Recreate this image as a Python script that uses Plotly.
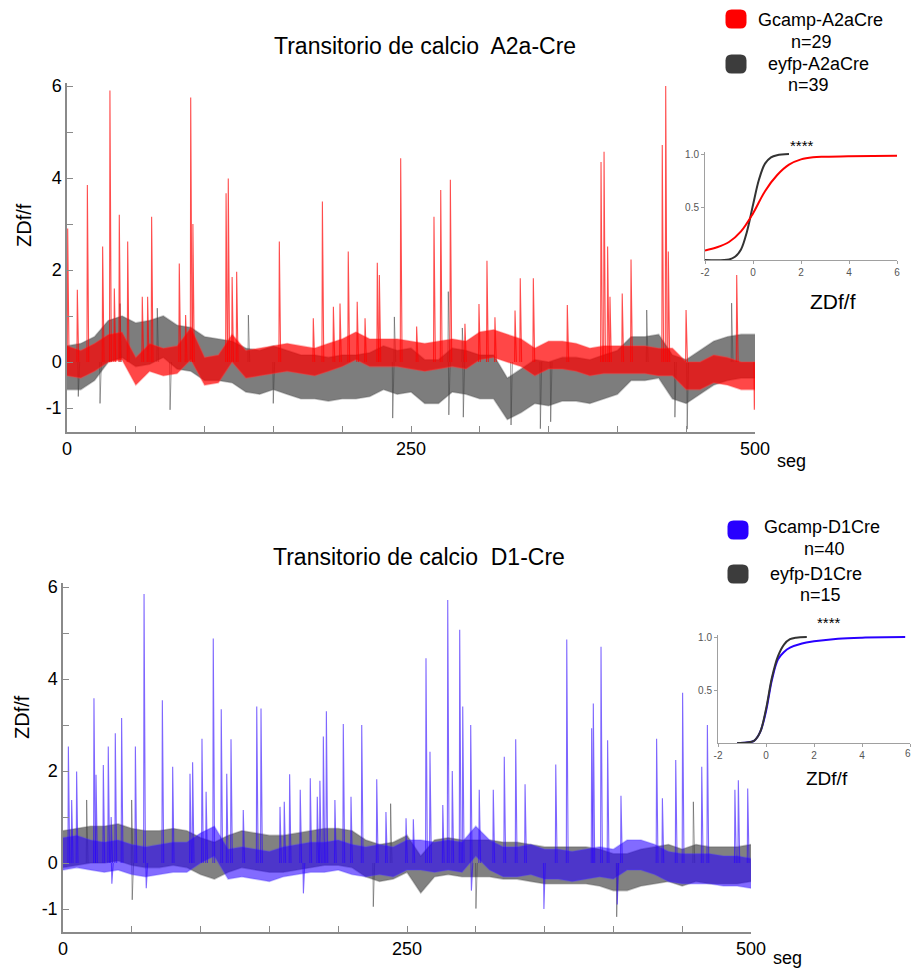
import plotly.graph_objects as go

W, H = 913, 970

# ------------------------------------------------------------------ data
# envelope sampling grid (seconds)
grid_t = list(range(0, 501, 10))

# --- A2a-Cre panel: noise band (lower / upper envelope), ZDf/f
a2a_gcamp_lo = [-0.3, -0.35, -0.2, 0.0, 0.05, -0.5, -0.2, -0.3, -0.25, 0.05, -0.5, -0.45, 0.0, -0.35, -0.3, -0.25, -0.2,
                -0.25, -0.3, -0.2, -0.1, 0.05, -0.1, -0.1, -0.1, -0.15, -0.2, -0.15, -0.1, -0.15, 0.05, 0.1, 0.0, -0.1,
                -0.3, -0.15, -0.15, -0.2, -0.3, -0.25, -0.25, -0.25, -0.25, -0.3, -0.3, -0.6, -0.6, -0.45, -0.5, -0.6, -0.6]
a2a_gcamp_hi = [0.35, 0.25, 0.4, 0.6, 0.65, 0.1, 0.4, 0.3, 0.35, 0.75, 0.1, 0.15, 0.6, 0.25, 0.3, 0.35, 0.4, 0.35, 0.3,
                0.4, 0.5, 0.65, 0.5, 0.5, 0.5, 0.45, 0.4, 0.45, 0.5, 0.45, 0.65, 0.7, 0.6, 0.5, 0.3, 0.45, 0.45, 0.4, 0.3,
                0.35, 0.35, 0.35, 0.35, 0.3, 0.3, 0.0, 0.0, 0.15, 0.1, 0.0, 0.0]
a2a_eyfp_lo = [-0.6, -0.6, -0.4, 0.0, 0.1, -0.1, -0.05, 0.1, -0.15, -0.2, -0.4, -0.4, -0.45, -0.65, -0.7, -0.6, -0.7, -0.8,
               -0.8, -0.85, -0.8, -0.8, -0.75, -0.6, -0.7, -0.65, -0.9, -0.9, -0.65, -0.7, -0.8, -0.8, -1.25, -1.1, -0.9,
               -0.95, -0.85, -0.85, -0.9, -0.8, -0.7, -0.4, -0.4, -0.35, -0.8, -0.9, -0.7, -0.5, -0.4, -0.35, -0.35]
a2a_eyfp_hi = [0.35, 0.4, 0.55, 0.9, 1.0, 0.85, 0.9, 1.0, 0.8, 0.75, 0.55, 0.5, 0.45, 0.3, 0.25, 0.35, 0.25, 0.15, 0.15,
               0.1, 0.15, 0.15, 0.2, 0.35, 0.25, 0.3, 0.05, 0.05, 0.3, 0.25, 0.15, 0.15, -0.35, -0.15, 0.05, 0.0, 0.1,
               0.1, 0.05, 0.15, 0.25, 0.55, 0.55, 0.6, 0.15, 0.05, 0.25, 0.45, 0.55, 0.6, 0.6]
# transients (time s, peak ZDf/f)
a2a_gcamp_spk_t = [0.5, 7.5, 14.8, 25.9, 31.2, 34.4, 38.0, 44.1, 54.7, 58.6, 61.5, 81.6, 86.2, 89.9, 91.5, 115.6, 117.2,
                   120.0, 123.3, 154.3, 179.0, 185.6, 193.6, 198.4, 204.4, 210.9, 216.6, 225.5, 227.0, 242.5, 254.1,
                   266.7, 271.6, 278.6, 289.2, 299.4, 305.2, 311.0, 325.6, 329.4, 338.9, 363.6, 388.1, 390.3, 392.9,
                   394.6, 403.5, 409.9, 432.6, 435.1, 437.0, 449.9, 486.7, 499.5]
a2a_gcamp_spk_v = [2.9, 1.57, 3.85, 2.51, 5.9, 1.6, 3.2, 2.62, 1.42, 1.42, 3.16, 2.14, 1.02, 5.75, 3.0, 3.67, 3.99, 1.85,
                   1.96, 2.62, 0.95, 3.49, 1.2, 1.27, 2.4, 1.31, 0.95, 2.16, 1.89, 4.43, 0.77, 3.16, 3.74, 3.96, 0.83,
                   1.26, 2.2, 0.97, 1.12, 1.82, 1.82, 1.24, 4.35, 4.57, 2.51, 1.42, 1.49, 2.23, 4.72, 6.0, 2.4, 1.13,
                   1.89, -1.04]
a2a_eyfp_spk_t = [8.2, 24.0, 38.5, 65.6, 74.9, 131.8, 149.9, 236.7, 237.9, 277.1, 277.5, 287.3, 288.0, 322.7, 344.0,
                  351.5, 421.3, 441.8, 450.7, 483.0]
a2a_eyfp_spk_v = [-0.75, -0.9, 1.27, 1.17, -1.04, 1.02, -0.9, -1.22, 0.98, 1.53, -1.15, 0.74, -1.2, -1.37, -1.45, -1.3,
                  1.13, -1.2, -1.46, 1.28]

# --- D1-Cre panel
d1_gcamp_lo = [-0.15, -0.1, -0.15, -0.2, -0.15, -0.25, -0.3, -0.25, -0.2, -0.2, 0.0, 0.15, -0.35, -0.3, -0.35, -0.4,
               -0.3, -0.25, -0.2, -0.2, -0.15, -0.25, -0.3, -0.25, -0.3, -0.15, -0.15, -0.2, -0.15, -0.2, 0.15, -0.15,
               -0.3, -0.3, -0.25, -0.35, -0.35, -0.4, -0.35, -0.3, -0.35, -0.15, -0.15, -0.25, -0.4, -0.45, -0.45,
               -0.45, -0.5, -0.5, -0.55]
d1_gcamp_hi = [0.55, 0.6, 0.5, 0.45, 0.5, 0.4, 0.35, 0.4, 0.45, 0.45, 0.65, 0.8, 0.3, 0.35, 0.3, 0.25, 0.35, 0.4, 0.45,
               0.45, 0.5, 0.4, 0.35, 0.4, 0.35, 0.5, 0.5, 0.45, 0.5, 0.45, 0.8, 0.5, 0.35, 0.35, 0.4, 0.3, 0.3, 0.25,
               0.3, 0.35, 0.3, 0.5, 0.5, 0.4, 0.25, 0.2, 0.2, 0.2, 0.15, 0.15, 0.1]
d1_eyfp_lo = [-0.1, -0.05, 0.0, 0.0, 0.05, -0.05, -0.1, -0.1, -0.05, -0.1, -0.25, -0.35, -0.2, -0.1, -0.15, -0.2, -0.2,
              -0.15, -0.1, -0.05, -0.05, -0.1, -0.3, -0.4, -0.35, -0.2, -0.65, -0.3, -0.25, -0.3, -0.3, -0.3, -0.35,
              -0.35, -0.4, -0.45, -0.45, -0.45, -0.45, -0.5, -0.6, -0.6, -0.5, -0.45, -0.4, -0.5, -0.4, -0.45, -0.45,
              -0.45, -0.4]
d1_eyfp_hi = [0.7, 0.75, 0.8, 0.8, 0.85, 0.75, 0.7, 0.7, 0.75, 0.7, 0.55, 0.45, 0.6, 0.7, 0.65, 0.6, 0.6, 0.65, 0.7,
              0.75, 0.75, 0.7, 0.5, 0.4, 0.45, 0.6, 0.15, 0.5, 0.55, 0.5, 0.5, 0.5, 0.45, 0.45, 0.4, 0.35, 0.35, 0.35,
              0.35, 0.3, 0.2, 0.2, 0.3, 0.35, 0.4, 0.3, 0.4, 0.35, 0.35, 0.35, 0.4]
d1_gcamp_spk_t = [3.9, 6.3, 9.9, 22.5, 24.0, 29.3, 32.9, 35.0, 38.0, 42.6, 52.6, 58.9, 72.2, 79.7, 92.3, 94.2, 101.0,
                  104.0, 109.2, 115.0, 119.0, 122.1, 131.0, 140.8, 143.9, 157.7, 160.8, 164.7, 172.4, 179.7, 184.8,
                  186.7, 189.2, 191.4, 197.6, 203.7, 209.3, 217.1, 228.0, 234.7, 249.3, 254.6, 263.8, 266.7, 276.0,
                  279.6, 282.9, 288.3, 290.5, 296.3, 302.5, 312.7, 320.7, 329.0, 335.8, 358.1, 366.1, 384.2, 385.4,
                  391.0, 395.8, 405.5, 431.4, 435.6, 445.3, 450.3, 464.2, 468.3, 488.3, 490.8, 497.6,
                  35.5, 60.5, 174.7, 296.8, 349.5, 402.8]
d1_gcamp_spk_v = [2.53, 1.37, 1.99, 3.58, 1.92, 2.13, 2.53, 1.0, 2.82, 3.15, 2.53, 5.85, 3.54, 2.09, 1.94, 2.19, 2.7,
                  1.55, 4.88, 3.34, 1.94, 2.69, 1.15, 3.4, 3.36, 1.22, 1.33, 1.93, 1.59, 1.84, 1.44, 1.79, 2.75, 3.3,
                  1.37, 3.02, 1.44, 3.0, 1.82, 1.11, 0.97, 0.95, 4.45, 2.42, 1.26, 5.72, 2.0, 5.07, 3.4, 3.0, 1.59,
                  1.59, 2.31, 2.69, 1.71, 2.14, 4.86, 2.93, 3.47, 4.7, 2.67, 1.46, 2.7, 1.41, 2.24, 3.7, 2.09, 3.0,
                  1.59, 1.8, 1.62,
                  -0.45, -0.55, -0.66, -0.6, -1.0, -0.9]
d1_eyfp_spk_t = [17.2, 49.9, 50.3, 225.5, 238.1, 300.1, 402.4, 458.1]
d1_eyfp_spk_v = [1.37, 1.37, -0.8, -0.95, 1.29, -0.99, -1.17, 1.33]

# --- cumulative distributions (insets)
a2a_cdf_gcamp_x = [-2, -1.5, -1, -0.5, 0, 0.5, 1, 1.5, 2, 2.5, 3, 4, 5, 6]
a2a_cdf_gcamp_y = [0.09, 0.12, 0.17, 0.27, 0.44, 0.65, 0.80, 0.90, 0.95, 0.97, 0.975, 0.98, 0.983, 0.985]
a2a_cdf_eyfp_x = [-2, -1, -0.75, -0.5, -0.25, 0, 0.25, 0.5, 0.75, 1.0, 1.5]
a2a_cdf_eyfp_y = [0.0, 0.005, 0.03, 0.1, 0.27, 0.52, 0.76, 0.91, 0.97, 0.99, 1.0]
d1_cdf_gcamp_x = [-1.2, -0.8, -0.5, -0.25, 0, 0.25, 0.5, 0.75, 1, 1.5, 2, 3, 4, 5.8]
d1_cdf_gcamp_y = [0.0, 0.005, 0.02, 0.1, 0.3, 0.6, 0.79, 0.86, 0.9, 0.94, 0.96, 0.985, 0.995, 1.0]
d1_cdf_eyfp_x = [-1.2, -0.8, -0.5, -0.25, 0, 0.25, 0.5, 0.75, 1.0, 1.25, 1.7]
d1_cdf_eyfp_y = [0.0, 0.005, 0.02, 0.1, 0.32, 0.62, 0.82, 0.93, 0.98, 0.995, 1.0]

# text
titles = ["Transitorio de calcio  A2a-Cre", "Transitorio de calcio  D1-Cre"]
legend_a2a = [("Gcamp-A2aCre", "n=29"), ("eyfp-A2aCre", "n=39")]
legend_d1 = [("Gcamp-D1Cre", "n=40"), ("eyfp-D1Cre", "n=15")]
x_ticks = list(range(0, 501, 50))
x_ticktext = ["0", "", "", "", "", "250", "", "", "", "", "500"]
y_ticks = [-1, 0, 1, 2, 3, 4, 5, 6]
y_ticktext = ["-1", "0", "", "2", "", "4", "", "6"]
ins_ticks = [-2, 0, 2, 4, 6]
ins_ticktext = ["-2", "0", "2", "4", "6"]

# ------------------------------------------------------------------ styles
RED = "rgb(255,0,0)"
BLUE = "rgb(40,0,255)"
FONT = "Liberation Sans, Arial, sans-serif"


def px(x):
    return x / W


def py(y):
    return 1 - y / H


def spike_path(ts, vs):
    xs, ys = [], []
    for t, v in zip(ts, vs):
        xs += [t - 0.3, t, t + 1.0, None]
        ys += [0, v, 0, None]
    return xs, ys


fig = go.Figure()


def band(lo, hi, fill, edge, xa, ya):
    fig.add_trace(go.Scatter(x=grid_t, y=lo, mode="lines", line=dict(width=1.6, color=edge),
                             xaxis=xa, yaxis=ya, showlegend=False, hoverinfo="skip"))
    fig.add_trace(go.Scatter(x=grid_t, y=hi, mode="lines", line=dict(width=1.6, color=edge),
                             fill="tonexty", fillcolor=fill, xaxis=xa, yaxis=ya, showlegend=False,
                             hoverinfo="skip"))


def spikes(ts, vs, color, xa, ya, w=1.1):
    xs, ys = spike_path(ts, vs)
    fig.add_trace(go.Scatter(x=xs, y=ys, mode="lines", line=dict(width=w, color=color),
                             xaxis=xa, yaxis=ya, showlegend=False, hoverinfo="skip"))


# top panel
band(a2a_eyfp_lo, a2a_eyfp_hi, "rgba(45,45,45,0.62)", "rgba(90,90,90,0.35)", "x", "y")
spikes(a2a_eyfp_spk_t, a2a_eyfp_spk_v, "rgba(60,60,60,0.55)", "x", "y", 0.9)
band(a2a_gcamp_lo, a2a_gcamp_hi, "rgba(255,0,0,0.72)", "rgba(255,60,60,0.35)", "x", "y")
spikes(a2a_gcamp_spk_t, a2a_gcamp_spk_v, "rgba(255,0,0,0.7)", "x", "y")

# bottom panel
band(d1_eyfp_lo, d1_eyfp_hi, "rgba(45,45,45,0.6)", "rgba(90,90,90,0.35)", "x2", "y2")
spikes(d1_eyfp_spk_t, d1_eyfp_spk_v, "rgba(60,60,60,0.55)", "x2", "y2", 0.9)
band(d1_gcamp_lo, d1_gcamp_hi, "rgba(40,0,255,0.58)", "rgba(80,60,255,0.3)", "x2", "y2")
spikes(d1_gcamp_spk_t, d1_gcamp_spk_v, "rgba(40,0,255,0.6)", "x2", "y2")

# insets
fig.add_trace(go.Scatter(x=a2a_cdf_eyfp_x, y=a2a_cdf_eyfp_y, mode="lines", line=dict(color="#333", width=2, shape="spline"),
                         xaxis="x3", yaxis="y3", showlegend=False))
fig.add_trace(go.Scatter(x=a2a_cdf_gcamp_x, y=a2a_cdf_gcamp_y, mode="lines", line=dict(color=RED, width=2, shape="spline"),
                         xaxis="x3", yaxis="y3", showlegend=False))
fig.add_trace(go.Scatter(x=d1_cdf_gcamp_x, y=d1_cdf_gcamp_y, mode="lines", line=dict(color=BLUE, width=2, shape="spline"),
                         xaxis="x4", yaxis="y4", showlegend=False))
fig.add_trace(go.Scatter(x=d1_cdf_eyfp_x, y=d1_cdf_eyfp_y, mode="lines", line=dict(color="#333", width=2, shape="spline"),
                         xaxis="x4", yaxis="y4", showlegend=False))

AX = "#8a8a8a"
main_x = dict(range=[0, 500], showline=True, linecolor=AX, linewidth=1.5, ticks="inside", ticklen=6,
              tickcolor=AX, tickwidth=1.2, tickvals=x_ticks, ticktext=x_ticktext, showgrid=False, zeroline=False,
              automargin=False, tickfont=dict(size=18, color="black", family=FONT))
main_y = dict(showline=True, linecolor=AX, linewidth=1.5, ticks="inside", ticklen=6, tickcolor=AX, tickwidth=1.2,
              tickvals=y_ticks, ticktext=y_ticktext, showgrid=False, zeroline=False, automargin=False,
              tickfont=dict(size=18, color="black", family=FONT))
ins_x = dict(range=[-2, 6], showline=True, linecolor="#a0a0a0", linewidth=1, ticks="outside", ticklen=3,
             tickcolor="#a0a0a0", tickvals=ins_ticks, ticktext=ins_ticktext, showgrid=False, zeroline=False,
             automargin=False, tickfont=dict(size=10, color="#555", family=FONT))
ins_y = dict(range=[0, 1.02], showline=True, linecolor="#a0a0a0", linewidth=1, ticks="outside", ticklen=3,
             tickcolor="#a0a0a0", tickvals=[0.5, 1.0], ticktext=["0.5", "1.0"], showgrid=False, zeroline=False,
             automargin=False, tickfont=dict(size=10, color="#555", family=FONT))

fig.update_layout(
    width=W, height=H, autosize=False, margin=dict(l=0, r=0, t=0, b=0, pad=0), paper_bgcolor="white",
    plot_bgcolor="rgba(0,0,0,0)",
    font=dict(family=FONT, color="black"),
    xaxis=dict(main_x, domain=[px(67), px(755)], anchor="y"),
    yaxis=dict(main_y, domain=[py(432), py(83)], range=[(362 - 432) / 46, (362 - 83) / 46], anchor="x"),
    xaxis2=dict(main_x, domain=[px(63), px(751)], anchor="y2"),
    yaxis2=dict(main_y, domain=[py(932), py(583)], range=[(863 - 932) / 46, (863 - 583) / 46], anchor="x2"),
    xaxis3=dict(ins_x, domain=[px(705), px(897)], anchor="y3"),
    yaxis3=dict(ins_y, domain=[py(260), py(152)], anchor="x3"),
    # last inset label sits at the figure edge; drawn as an annotation below
    xaxis4=dict(ins_x, domain=[px(718), px(910)], anchor="y4", ticktext=ins_ticktext[:-1] + [""]),
    yaxis4=dict(ins_y, domain=[py(743), py(635)], anchor="x4"),
)

ann = []


def text(x, y, s, size, color="black", angle=0, xanchor="center"):
    ann.append(dict(x=px(x), y=py(y), xref="paper", yref="paper", text=s, showarrow=False, textangle=angle,
                    xanchor=xanchor, yanchor="middle", font=dict(size=size, color=color, family=FONT)))


text(425, 46, titles[0], 23)
text(419, 557, titles[1], 23)
text(24, 225, "ZDf/f", 20, angle=-90)
text(22, 717, "ZDf/f", 20, angle=-90)
text(791, 461, "seg", 18)
text(787, 958, "seg", 18)
text(802, 145, "****", 15)
text(829, 622, "****", 15)
text(833, 301, "ZDf/f", 21)
text(827, 778, "ZDf/f", 19)
text(908, 753, ins_ticktext[-1], 10, color="#555")
# legends
text(820, 20, legend_a2a[0][0], 18)
text(811, 42, legend_a2a[0][1], 18)
text(818, 64, legend_a2a[1][0], 18)
text(808, 85, legend_a2a[1][1], 18)
text(822, 527, legend_d1[0][0], 18)
text(824, 549, legend_d1[0][1], 18)
text(816, 574, legend_d1[1][0], 18)
text(820, 595, legend_d1[1][1], 18)
fig.update_layout(annotations=ann)


def rounded(cx, cy, w, h, r, color):
    x0, x1 = cx - w / 2, cx + w / 2
    y0, y1 = cy - h / 2, cy + h / 2
    pts = (f"M {px(x0 + r)},{py(y0)} L {px(x1 - r)},{py(y0)} Q {px(x1)},{py(y0)} {px(x1)},{py(y0 + r)} "
           f"L {px(x1)},{py(y1 - r)} Q {px(x1)},{py(y1)} {px(x1 - r)},{py(y1)} "
           f"L {px(x0 + r)},{py(y1)} Q {px(x0)},{py(y1)} {px(x0)},{py(y1 - r)} "
           f"L {px(x0)},{py(y0 + r)} Q {px(x0)},{py(y0)} {px(x0 + r)},{py(y0)} Z")
    return dict(type="path", path=pts, xref="paper", yref="paper", fillcolor=color, line=dict(width=0))


fig.update_layout(shapes=[
    rounded(736, 19, 21, 19, 6, RED),
    rounded(736, 64, 21, 19, 6, "#3c3c3c"),
    rounded(738, 530, 21, 19, 6, BLUE),
    rounded(738, 574, 21, 19, 6, "#3c3c3c"),
])

fig.write_html("out.html", config={"responsive": False, "displayModeBar": False},
               post_script="document.body.style.margin='0px';document.body.style.overflow='hidden';"
                           "document.documentElement.style.overflow='hidden';")
